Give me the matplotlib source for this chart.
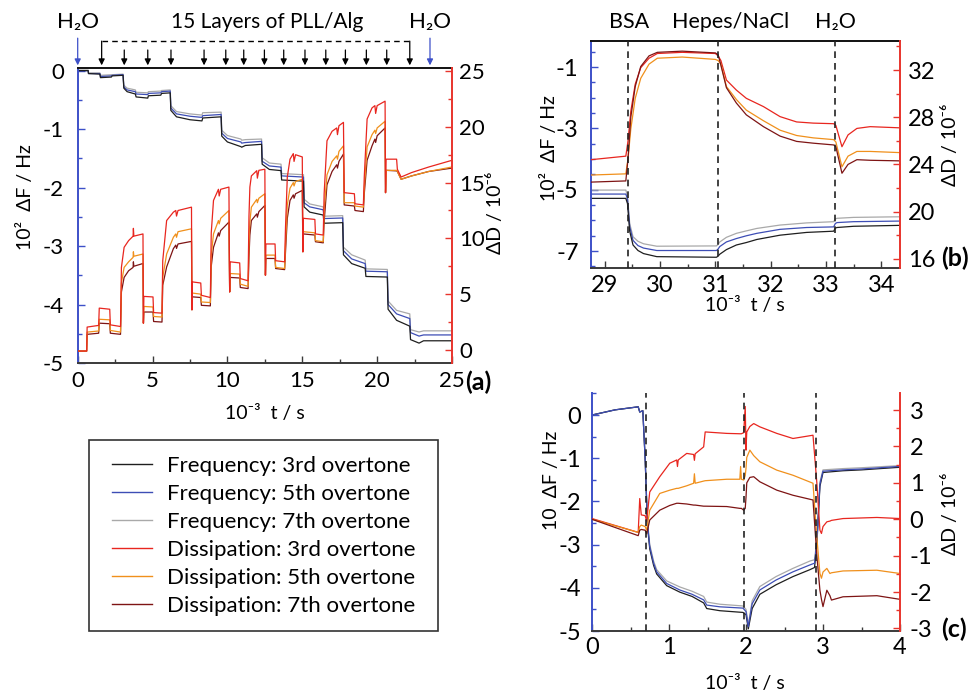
import matplotlib
matplotlib.use("Agg")
import matplotlib.pyplot as plt
from matplotlib.lines import Line2D
from matplotlib.patches import Rectangle
from matplotlib.ticker import MultipleLocator, FixedLocator

plt.rcParams['font.family'] = ['Lato', 'Noto Sans', 'DejaVu Sans']
plt.rcParams['axes.unicode_minus'] = False

# ---------------- panel (a): 15 layers of PLL/Alg ----------------
a_t_freq = [0, 0.7, 0.72, 1.48, 1.52, 2.25, 2.3, 3.03, 3.08, 3.3, 3.85, 3.9, 4.68, 4.72, 5.55,
            5.6, 6.18, 6.22, 6.6, 7.5, 8.3, 8.35, 9.58, 9.62, 10.0, 10.9, 10.95, 11.2, 12.28, 12.32,
            12.8, 13.58, 13.62, 15.08, 15.12, 15.5, 16.4, 16.45, 17.7, 17.75, 18.3, 19.2, 19.25,
            20.68, 20.73, 21.3, 22.18, 22.23, 22.8, 23.1, 25]
a_f3 = [0, 0, -0.05, -0.06, -0.12, -0.11, -0.09, -0.08, -0.30, -0.36, -0.40, -0.45, -0.47, -0.43,
        -0.42, -0.39, -0.38, -0.68, -0.79, -0.84, -0.86, -0.81, -0.79, -1.12, -1.22, -1.30, -1.31,
        -1.28, -1.26, -1.60, -1.69, -1.71, -1.87, -1.89, -2.33, -2.42, -2.47, -2.61, -2.60, -3.15,
        -3.30, -3.38, -3.52, -3.53, -4.08, -4.27, -4.37, -4.60, -4.66, -4.62, -4.62]
a_f5 = [0, 0, -0.05, -0.05, -0.10, -0.09, -0.08, -0.07, -0.28, -0.33, -0.36, -0.40, -0.41, -0.39,
        -0.38, -0.36, -0.35, -0.64, -0.74, -0.78, -0.80, -0.77, -0.75, -1.07, -1.16, -1.22, -1.24,
        -1.23, -1.21, -1.55, -1.63, -1.65, -1.80, -1.82, -2.26, -2.33, -2.38, -2.53, -2.52, -3.08,
        -3.22, -3.30, -3.43, -3.44, -4.00, -4.16, -4.24, -4.48, -4.54, -4.52, -4.52]
a_f7 = [0.01, 0.01, -0.04, -0.04, -0.08, -0.07, -0.07, -0.06, -0.25, -0.30, -0.33, -0.37, -0.38,
        -0.36, -0.35, -0.34, -0.33, -0.60, -0.70, -0.74, -0.76, -0.72, -0.71, -1.02, -1.11, -1.17,
        -1.19, -1.18, -1.17, -1.49, -1.58, -1.60, -1.76, -1.78, -2.20, -2.28, -2.33, -2.49, -2.48,
        -3.02, -3.15, -3.24, -3.39, -3.40, -3.94, -4.10, -4.16, -4.43, -4.47, -4.45, -4.45]

a_t_diss = [0, 0.6, 0.63, 1.4, 1.44, 2.14, 2.18, 2.86, 2.92, 3.1, 3.4, 3.7, 3.72, 3.75, 4.36,
            4.39, 4.42, 5.03, 5.07, 5.63, 5.68, 5.94, 6.39, 6.55, 6.6, 6.7, 7.6, 7.63, 7.66, 8.22,
            8.26, 8.86, 8.92, 9.07, 9.4, 9.45, 9.55, 10.1, 10.15, 10.18, 10.82, 10.86, 11.38, 11.44,
            11.5, 11.6, 11.96, 12.0, 12.1, 12.5, 12.54, 12.57, 13.18, 13.22, 13.82, 13.88, 14.0,
            14.18, 14.4, 14.45, 14.55, 15.0, 15.04, 15.07, 15.84, 15.88, 16.4, 16.46, 16.65, 16.99,
            17.3, 17.35, 17.45, 17.75, 17.8, 18.48, 18.52, 19.08, 19.14, 19.33, 19.66, 19.85, 19.9,
            20.0, 20.53, 20.56, 20.6, 21.3, 21.35, 21.6, 22.3, 23.45, 25]
a_d3 = [-0.1, -0.1, 2.05, 2.2, 3.75, 3.65, 2.25, 2.1, 7.4, 9.2, 9.8, 10.2, 10.9, 10.2, 10.4,
        2.4, 4.8, 4.75, 3.35, 3.3, 8.0, 11.6, 12.35, 12.5, 12.0, 12.5, 12.8, 3.6, 6.1, 6.0,
        4.9, 4.7, 10.5, 13.4, 14.4, 13.8, 14.4, 14.6, 5.2, 7.9, 7.8, 6.4, 6.2, 12.0,
        14.6, 15.6, 16.07, 15.4, 16.1, 16.2, 6.7, 9.5, 9.5, 8.0, 7.9, 11.0, 15.5,
        17.1, 17.6, 16.9, 17.5, 17.3, 8.8, 11.8, 11.7, 10.4, 10.3, 14.0, 18.75, 19.6,
        19.9, 19.3, 20.1, 20.4, 14.1, 14.0, 13.1, 13.0, 15.5, 20.7, 21.7, 21.9, 21.2,
        21.9, 22.3, 14.1, 17.1, 17.1, 16.2, 15.5, 15.9, 16.4, 17.0]
a_d5 = [-0.1, -0.1, 1.6, 1.7, 2.75, 2.7, 1.75, 1.6, 6.0, 7.4, 7.9, 8.3, 8.8, 8.4, 8.6,
        2.4, 3.9, 3.85, 3.0, 2.95, 6.5, 8.6, 10.1, 10.4, 10.1, 10.6, 10.86, 3.6, 5.1, 5.0,
        4.3, 4.25, 8.5, 10.4, 11.6, 11.3, 11.8, 12.5, 5.2, 6.85, 6.8, 5.9, 5.7, 9.5,
        11.5, 12.8, 13.5, 13.2, 13.6, 14.0, 6.7, 8.5, 8.5, 7.4, 7.3, 9.5, 13.0,
        14.5, 15.0, 14.7, 15.1, 15.3, 8.8, 10.6, 10.5, 9.8, 9.7, 12.5, 15.7, 16.9,
        17.4, 17.1, 17.8, 18.3, 13.2, 13.2, 12.9, 12.8, 14.5, 18.2, 19.3, 19.7, 19.4,
        19.9, 20.5, 14.1, 16.1, 16.1, 16.0, 15.3, 15.6, 16.0, 16.4]
a_d7 = [-0.1, -0.1, 1.4, 1.5, 2.4, 2.35, 1.5, 1.4, 5.2, 6.5, 7.1, 7.4, 7.9, 7.5, 7.75,
        2.4, 3.4, 3.4, 2.55, 2.5, 5.8, 7.44, 9.08, 9.4, 9.1, 9.5, 9.73, 3.6, 4.76, 4.7,
        4.0, 3.95, 7.5, 9.2, 10.5, 10.2, 10.7, 11.46, 5.2, 6.5, 6.45, 5.6, 5.5, 8.3,
        10.3, 11.6, 12.2, 11.9, 12.4, 12.95, 6.7, 8.2, 8.2, 7.3, 7.2, 8.8, 11.8,
        13.4, 13.9, 13.6, 14.0, 14.3, 8.8, 10.4, 10.3, 9.7, 9.6, 11.5, 14.8, 16.0,
        16.6, 16.3, 16.9, 17.56, 13.0, 12.9, 12.5, 12.4, 14.0, 17.0, 18.3, 18.9, 18.6,
        19.2, 19.9, 14.1, 16.1, 16.05, 16.0, 15.3, 15.6, 16.0, 16.3]

layer_times = [1.6, 3.11, 4.68, 6.23, 8.44, 9.89, 11.09, 12.47, 13.76, 15.18, 16.57, 17.88,
               19.28, 20.64, 22.18]
water_times = [0, 23.53]

# ---------------- panel (b): BSA adsorption ----------------
b_t_freq = [28.75, 29.38, 29.41, 29.45, 29.51, 29.6, 29.7, 29.94, 31.02, 31.05, 31.08, 31.2,
            31.38, 31.56, 31.75, 32.17, 32.65, 33.14, 33.17, 33.2, 33.5, 34.34]
b_f3 = [-5.28, -5.28, -5.45, -6.35, -6.80, -6.98, -7.08, -7.18, -7.20, -7.16, -7.10, -6.95,
        -6.80, -6.72, -6.62, -6.48, -6.39, -6.35, -6.25, -6.23, -6.19, -6.16]
b_f5 = [-5.14, -5.14, -5.30, -6.20, -6.65, -6.82, -6.90, -6.98, -6.98, -6.93, -6.85, -6.70,
        -6.59, -6.50, -6.42, -6.29, -6.23, -6.21, -6.10, -6.07, -6.04, -6.02]
b_f7 = [-5.01, -5.01, -5.20, -6.10, -6.53, -6.68, -6.76, -6.84, -6.83, -6.78, -6.70, -6.55,
        -6.42, -6.34, -6.26, -6.15, -6.08, -6.04, -5.95, -5.93, -5.90, -5.88]

b_t_diss = [28.75, 29.38, 29.42, 29.47, 29.55, 29.65, 29.8, 29.95, 30.4, 31.0, 31.05, 31.1,
            31.2, 31.38, 31.56, 31.87, 32.17, 32.47, 32.77, 33.14, 33.18, 33.29, 33.4, 33.56,
            33.8, 34.34]
b_d3 = [24.4, 24.7, 26.0, 28.5, 30.8, 32.2, 33.0, 33.4, 33.5, 33.4, 33.2, 32.8, 31.15, 30.3,
        29.6, 28.9, 28.05, 27.6, 27.5, 27.45, 27.3, 25.5, 26.5, 27.05, 27.2, 27.1]
b_d5 = [23.1, 23.2, 24.5, 27.0, 29.6, 31.3, 32.5, 33.0, 33.1, 32.9, 32.8, 32.5, 30.6, 29.5,
        28.6, 27.7, 26.9, 26.45, 26.25, 26.1, 25.9, 23.8, 24.7, 25.1, 25.1, 25.0]
b_d7 = [22.5, 22.6, 24.5, 28.0, 30.6, 32.3, 33.2, 33.5, 33.6, 33.45, 33.3, 32.4, 30.5, 29.2,
        28.2, 27.2, 26.4, 25.95, 25.8, 25.65, 25.5, 23.25, 24.0, 24.4, 24.35, 24.3]
b_events = [29.42, 31.05, 33.16]
b_event_names = ['BSA', 'Hepes/NaCl', 'H\u2082O']

# ---------------- panel (c) ----------------
c_t_freq = [0, 0.3, 0.6, 0.62, 0.66, 0.69, 0.72, 0.75, 0.8, 0.84, 0.97, 1.14, 1.3, 1.45, 1.49,
            1.66, 1.96, 2.0, 2.03, 2.08, 2.18, 2.39, 2.61, 2.83, 2.89, 2.92, 2.96, 3.0, 3.26, 3.5,
            3.91, 4.0]
c_f3 = [0, 0.12, 0.19, 0.07, 0.1, -1.0, -2.55, -3.1, -3.48, -3.68, -3.95, -4.1, -4.2, -4.35,
        -4.48, -4.53, -4.57, -4.62, -4.95, -4.48, -4.15, -3.93, -3.74, -3.58, -3.53, -3.0, -1.65,
        -1.33, -1.29, -1.27, -1.22, -1.21]
c_f5 = [0, 0.12, 0.19, 0.07, 0.1, -1.0, -2.5, -3.05, -3.43, -3.63, -3.90, -4.05, -4.15, -4.28,
        -4.40, -4.44, -4.47, -4.55, -4.9, -4.37, -4.05, -3.82, -3.63, -3.47, -3.43, -2.95, -1.6,
        -1.3, -1.27, -1.25, -1.2, -1.19]
c_f7 = [0, 0.12, 0.19, 0.07, 0.1, -1.0, -2.45, -3.0, -3.38, -3.58, -3.84, -3.98, -4.08, -4.2,
        -4.33, -4.38, -4.42, -4.5, -4.85, -4.3, -3.97, -3.74, -3.55, -3.38, -3.35, -2.9, -1.55,
        -1.27, -1.24, -1.22, -1.18, -1.17]

c_t_diss = [0, 0.6, 0.62, 0.64, 0.69, 0.71, 0.75, 0.88, 1.01, 1.10, 1.11, 1.12, 1.23, 1.32,
            1.33, 1.34, 1.45, 1.47, 1.75, 1.92, 1.93, 1.94, 1.97, 1.99, 2.0, 2.01, 2.05, 2.1,
            2.18, 2.4, 2.61, 2.87, 2.92, 2.96, 2.98, 3.0, 3.05, 3.09, 3.11, 3.26, 3.7, 4.0]
c_d3 = [0.02, -0.36, 0.57, 0.12, 0.10, -0.05, 0.75, 1.17, 1.54, 1.63, 1.45, 1.63, 1.81, 1.78,
        1.62, 1.8, 1.99, 2.40, 2.36, 2.35, 2.35, 2.35, 2.38, 3.1, 1.9, 2.4, 2.55, 2.63, 2.54,
        2.36, 2.22, 2.31, 1.0, -0.3, -0.39, -0.2, -0.07, -0.05, -0.03, 0.02, 0.05, 0.02]
c_d5 = [0.0, -0.36, -0.2, -0.16, -0.2, -0.3, 0.25, 0.71, 0.8, 0.85, 0.85, 0.85, 0.92, 0.99,
        1.25, 0.99, 1.05, 1.06, 1.1, 1.1, 1.45, 1.1, 1.08, 1.2, 1.4, 1.7, 1.90, 1.75, 1.58,
        1.35, 1.21, 0.99, -0.5, -1.49, -1.62, -1.45, -1.35, -1.49, -1.47, -1.42, -1.40, -1.49]
c_d7 = [0.0, -0.45, -0.3, -0.28, -0.3, -0.4, -0.02, 0.25, 0.38, 0.44, 0.44, 0.44, 0.42, 0.39,
        0.39, 0.39, 0.36, 0.36, 0.35, 0.3, 0.3, 0.3, 0.25, 0.3, 0.6, 1.0, 1.15, 1.17, 1.03,
        0.80, 0.66, 0.53, -1.0, -1.95, -2.2, -2.4, -1.95, -2.1, -2.22, -2.13, -2.1, -2.2]
c_events = [0.70, 1.98, 2.91]

legend_labels = ['Frequency: 3rd overtone', 'Frequency: 5th overtone', 'Frequency: 7th overtone',
                 'Dissipation: 3rd overtone', 'Dissipation: 5th overtone', 'Dissipation: 7th overtone']

# ---------------- styling ----------------
BLUE_AX = '#3d50c8'
RED_AX = '#e8342c'
C_F3, C_F5, C_F7 = '#1e1e1e', '#3d4db5', '#a9a9a9'
C_D3, C_D5, C_D7 = '#e8261f', '#f0901c', '#7e1414'
FS = 14
LW = 0.9

W, H = 971, 691
fig = plt.figure(figsize=(W / 100, H / 100), dpi=100)


def rect(l, t, r, b):
    return [l / W, 1 - b / H, (r - l) / W, (b - t) / H]


def make_panel(box, xlim, ylim, y2lim, top=True, pads=(10, 6, 6), tsize=17):
    ax = fig.add_axes(rect(*box))
    ax2 = ax.twinx()
    ax.set_xlim(*xlim)
    ax.set_ylim(*ylim)
    ax2.set_ylim(*y2lim)
    ax.spines['right'].set_visible(False)
    ax.spines['left'].set_color(BLUE_AX)
    ax.spines['bottom'].set_color('#3a3a3a')
    ax.spines['top'].set_color('#111111')
    ax.spines['top'].set_visible(top)
    for s in ('left', 'top', 'bottom'):
        ax2.spines[s].set_visible(False)
    ax2.spines['right'].set_color(RED_AX)
    for sp in list(ax.spines.values()) + list(ax2.spines.values()):
        sp.set_linewidth(1.4)
    ax.tick_params(axis='both', which='both', direction='in', labelsize=tsize, top=False)
    ax.tick_params(axis='y', which='both', color=BLUE_AX, pad=pads[0])
    ax.tick_params(axis='x', which='both', color='#3a3a3a', pad=pads[2])
    ax2.tick_params(axis='y', which='both', direction='in', color=RED_AX, labelsize=tsize,
                    pad=pads[1])
    for a in (ax, ax2):
        a.tick_params(which='major', length=5, width=1)
        a.tick_params(which='minor', length=3, width=1)
    return ax, ax2


def ftext(x, y, s, **kw):
    kw.setdefault('fontsize', FS)
    fig.text(x / W, 1 - y / H, s, ha='center', va='center', **kw)


# panel (a)
axA, axA2 = make_panel((77.7, 67.7, 452, 363), (0, 25), (-5, 0.05), (-1.17, 25.3),
                       pads=(10, 5, 6), tsize=16)
axA.xaxis.set_major_locator(MultipleLocator(5))
axA.xaxis.set_minor_locator(MultipleLocator(2.5))
axA.yaxis.set_major_locator(MultipleLocator(1))
axA.yaxis.set_minor_locator(MultipleLocator(0.5))
axA2.yaxis.set_major_locator(MultipleLocator(5))
axA2.yaxis.set_minor_locator(MultipleLocator(2.5))
axA.plot(a_t_freq, a_f7, color=C_F7, lw=LW)
axA.plot(a_t_freq, a_f5, color=C_F5, lw=LW)
axA.plot(a_t_freq, a_f3, color=C_F3, lw=LW)
axA2.plot(a_t_diss, a_d7, color=C_D7, lw=LW)
axA2.plot(a_t_diss, a_d5, color=C_D5, lw=LW)
axA2.plot(a_t_diss, a_d3, color=C_D3, lw=LW)

tr = axA.get_xaxis_transform()
arrow_kw = dict(arrowstyle='-|>', lw=0.9, mutation_scale=9, shrinkA=0, shrinkB=0)
for i, t in enumerate(layer_times):
    start = 1.09 if i in (0, len(layer_times) - 1) else 1.06
    axA.annotate('', xy=(t, 1.008), xytext=(t, start), xycoords=tr, textcoords=tr,
                 arrowprops=dict(color='black', **arrow_kw), annotation_clip=False)
axA.plot([layer_times[0], layer_times[-1]], [1.09, 1.09], transform=tr, color='black',
         lw=1, ls=(0, (4, 3)), clip_on=False)
for t in water_times:
    axA.annotate('', xy=(t, 1.008), xytext=(t, 1.10), xycoords=tr, textcoords=tr,
                 arrowprops=dict(color=BLUE_AX, **arrow_kw), annotation_clip=False)

ftext(78, 22, 'H\u2082O', fontsize=16)
ftext(267, 22, '15 Layers of PLL/Alg', fontsize=15)
ftext(430, 22, 'H\u2082O', fontsize=16)
ftext(25, 197, '10\u00b2  \u0394F / Hz', rotation=90)
ftext(495, 213, '\u0394D / 10\u207b\u2076', rotation=90)
ftext(265, 413, '10\u207b\u00b3  t / s')
ftext(478, 382, '(a)', fontweight='bold', fontsize=18)

# panel (b)
axB, axB2 = make_panel((591, 41, 900, 268), (28.75, 34.34), (-7.55, -0.15), (15.22, 34.46),
                       pads=(9, 6, 5))
axB.xaxis.set_major_locator(MultipleLocator(1))
axB.xaxis.set_minor_locator(MultipleLocator(0.5))
axB.yaxis.set_major_locator(FixedLocator([-7, -5, -3, -1]))
axB.yaxis.set_minor_locator(MultipleLocator(0.5))
axB2.yaxis.set_major_locator(FixedLocator([16, 20, 24, 28, 32]))
axB2.yaxis.set_minor_locator(MultipleLocator(2))
axB.plot(b_t_freq, b_f7, color=C_F7, lw=LW)
axB.plot(b_t_freq, b_f5, color=C_F5, lw=LW)
axB.plot(b_t_freq, b_f3, color=C_F3, lw=LW)
axB2.plot(b_t_diss, b_d3, color=C_D3, lw=LW)
axB2.plot(b_t_diss, b_d5, color=C_D5, lw=LW)
axB2.plot(b_t_diss, b_d7, color=C_D7, lw=LW)
for t in b_events:
    axB2.axvline(t, color='#222222', lw=1.2, ls=(0, (4, 3)))
trb = axB.get_xaxis_transform()
for t, name, dx in zip(b_events, b_event_names, (0.01, 0.23, 0.01)):
    axB.text(t + dx, 1.085, name, transform=trb, ha='center', va='center', fontsize=15.5)
ftext(549, 148, '10\u00b2  \u0394F / Hz', rotation=90)
ftext(950, 145, '\u0394D / 10\u207b\u2076', rotation=90)
ftext(745, 306, '10\u207b\u00b3  t / s')
ftext(955, 258, '(b)', fontweight='bold', fontsize=18)

# panel (c)
axC, axC2 = make_panel((592, 393, 900, 631), (0, 4), (-5, 0.51), (-3.07, 3.47), top=False,
                       pads=(8, 7, 4))
axC.xaxis.set_major_locator(MultipleLocator(1))
axC.xaxis.set_minor_locator(MultipleLocator(0.5))
axC.yaxis.set_major_locator(MultipleLocator(1))
axC.yaxis.set_minor_locator(MultipleLocator(0.5))
axC2.yaxis.set_major_locator(MultipleLocator(1))
axC2.yaxis.set_minor_locator(MultipleLocator(0.5))
axC.plot(c_t_freq, c_f7, color=C_F7, lw=LW)
axC.plot(c_t_freq, c_f3, color=C_F3, lw=LW)
axC.plot(c_t_freq, c_f5, color=C_F5, lw=LW)
axC2.plot(c_t_diss, c_d3, color=C_D3, lw=LW)
axC2.plot(c_t_diss, c_d5, color=C_D5, lw=LW)
axC2.plot(c_t_diss, c_d7, color=C_D7, lw=LW)
for t in c_events:
    axC2.axvline(t, color='#222222', lw=1.2, ls=(0, (4, 3)))
ftext(551, 480, '10  \u0394F / Hz', rotation=90)
ftext(950, 514, '\u0394D / 10\u207b\u2076', rotation=90)
ftext(745, 683, '10\u207b\u00b3  t / s')
ftext(954, 629, '(c)', fontweight='bold', fontsize=18)

# legend
fig.add_artist(Rectangle((89 / W, 1 - 631 / H), (438 - 89) / W, (631 - 440) / H,
                         transform=fig.transFigure, fill=False, edgecolor='#333333', lw=1.2))
handles = [Line2D([], [], color=c, lw=1) for c in (C_F3, C_F5, C_F7, C_D3, C_D5, C_D7)]
fig.legend(handles, legend_labels, loc='upper left', bbox_to_anchor=(112 / W, 1 - 456 / H),
           frameon=False, fontsize=16, handlelength=1.8, handletextpad=0.68,
           labelspacing=0.36, borderpad=0, borderaxespad=0)

fig.savefig('out.png', dpi=100)
